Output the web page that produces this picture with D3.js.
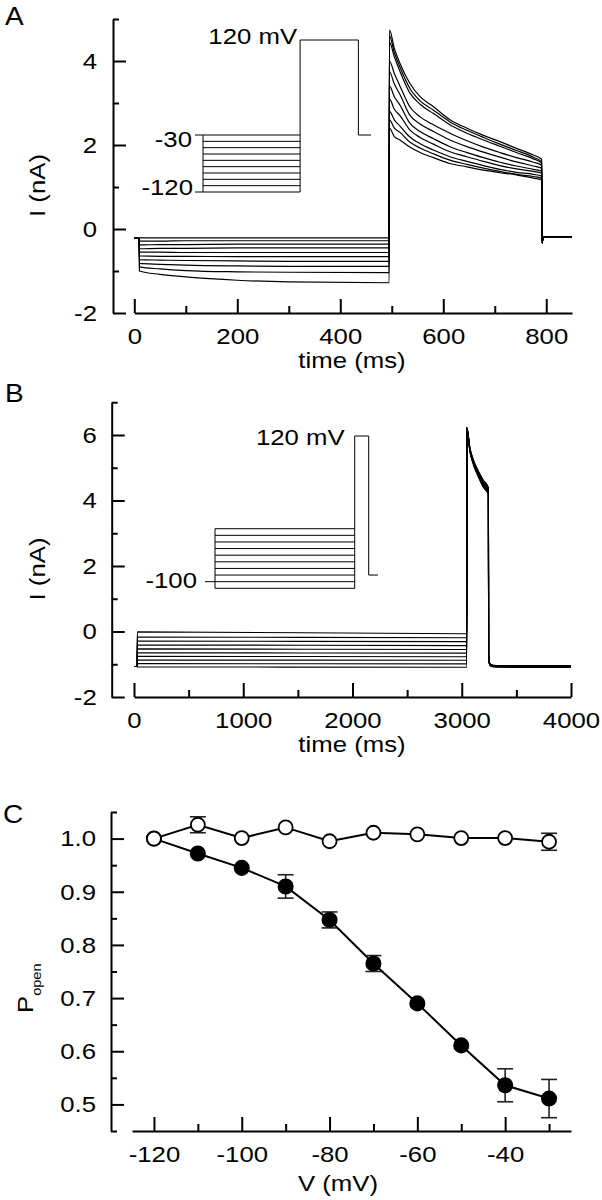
<!DOCTYPE html>
<html><head><meta charset="utf-8">
<script src="https://cdn.jsdelivr.net/npm/d3@7"></script>
<style>
body{margin:0;background:#fff}
svg{display:block}
</style>
</head><body>
<svg id="fig" width="602" height="1200"></svg>
<script>
// ---------------- DATA ----------------
// Panel A : prepulse voltages (mV), top to bottom
const aVolt = [-30,-40,-50,-60,-70,-80,-90,-100,-110,-120];
const aHoldStart = -0.22, aHoldEnd = -0.18, aDip = -0.33;
const aHoldT = [0, 9.5];
const aPreT = [10, 50, 100, 200, 300, 495];
const aPreI = [
 [-0.21,-0.21,-0.21,-0.21,-0.21,-0.21],
 [-0.29,-0.29,-0.28,-0.28,-0.28,-0.28],
 [-0.38,-0.37,-0.37,-0.36,-0.36,-0.36],
 [-0.47,-0.46,-0.46,-0.45,-0.45,-0.45],
 [-0.55,-0.55,-0.56,-0.56,-0.56,-0.56],
 [-0.64,-0.65,-0.65,-0.66,-0.66,-0.66],
 [-0.73,-0.74,-0.75,-0.76,-0.77,-0.77],
 [-0.82,-0.84,-0.86,-0.88,-0.89,-0.89],
 [-0.90,-0.95,-0.99,-1.02,-1.03,-1.04],
 [-1.00,-1.08,-1.14,-1.22,-1.26,-1.28]];
const aTestT = [495.5, 505, 516, 535, 555, 581, 613, 646, 678, 710, 742, 775, 791];
const aTestI = [
 [2.40,2.20,2.12,1.95,1.82,1.70,1.56,1.48,1.40,1.34,1.29,1.21,1.17],
 [2.60,2.40,2.30,2.07,1.93,1.79,1.64,1.54,1.45,1.37,1.30,1.25,1.21],
 [2.80,2.60,2.45,2.19,2.03,1.88,1.72,1.61,1.51,1.42,1.35,1.30,1.26],
 [3.10,2.85,2.70,2.36,2.18,2.02,1.84,1.72,1.61,1.51,1.43,1.37,1.33],
 [3.40,3.15,2.95,2.52,2.32,2.15,1.96,1.82,1.70,1.59,1.50,1.42,1.38],
 [3.75,3.45,3.20,2.71,2.50,2.32,2.12,1.96,1.83,1.71,1.60,1.50,1.45],
 [4.00,3.70,3.40,2.91,2.67,2.48,2.28,2.10,1.95,1.82,1.70,1.59,1.52],
 [4.45,4.10,3.75,3.24,2.97,2.75,2.48,2.28,2.12,1.97,1.82,1.67,1.57],
 [4.60,4.20,3.85,3.35,3.05,2.83,2.55,2.35,2.18,2.02,1.87,1.71,1.60],
 [4.74,4.30,3.94,3.47,3.15,2.91,2.60,2.40,2.23,2.08,1.92,1.76,1.66]];
const aEndT = [792, 794, 850];
// Panel A protocol inset
const aProtoPreDur = 500, aProtoTestV = 120, aProtoTestDur = 300, aProtoTailV = -30, aProtoTailDur = 65;
const aProtoLabels = [-30, -120];

// Panel B
const bVolt = [-20,-30,-40,-50,-60,-70,-80,-90,-100,-110];
const bHold = -1.07;
const bHoldT = [0, 29.5];
const bPreT = [30, 3046];
const bPreStart = [-0.01,-0.17,-0.29,-0.41,-0.53,-0.65,-0.76,-0.87,-0.98,-1.08];
const bPreEnd   = [-0.07,-0.19,-0.31,-0.43,-0.55,-0.66,-0.77,-0.88,-0.99,-1.09];
const bTestT = [3046.5, 3075, 3106, 3152, 3198, 3244];
const bTestI = [
 [6.23,5.60,5.25,4.90,4.62,4.40],
 [6.23,5.59,5.23,4.88,4.60,4.38],
 [6.22,5.58,5.22,4.86,4.57,4.35],
 [6.22,5.56,5.20,4.84,4.54,4.33],
 [6.21,5.55,5.18,4.82,4.52,4.30],
 [6.21,5.54,5.17,4.80,4.50,4.28],
 [6.20,5.52,5.15,4.78,4.48,4.25],
 [6.20,5.51,5.13,4.76,4.45,4.23],
 [6.19,5.50,5.12,4.74,4.43,4.20],
 [6.18,5.48,5.10,4.72,4.40,4.18]];
const bTailT = [3246, 3252, 3262, 3285, 3350, 4000];
const bTailI = [
 [-0.70,-0.93,-1.00,-1.03,-1.04,-1.04],
 [-0.70,-0.93,-1.00,-1.03,-1.04,-1.05],
 [-0.71,-0.94,-1.01,-1.04,-1.05,-1.05],
 [-0.71,-0.94,-1.01,-1.04,-1.05,-1.06],
 [-0.72,-0.95,-1.02,-1.05,-1.06,-1.07],
 [-0.72,-0.95,-1.02,-1.05,-1.06,-1.07],
 [-0.73,-0.96,-1.03,-1.06,-1.07,-1.08],
 [-0.73,-0.96,-1.03,-1.06,-1.07,-1.08],
 [-0.74,-0.97,-1.04,-1.07,-1.08,-1.09],
 [-0.75,-0.98,-1.05,-1.08,-1.09,-1.10]];
// Panel B protocol inset
const bProtoPreDur = 3000, bProtoTestV = 120, bProtoTestDur = 300, bProtoTailV = -90, bProtoTailDur = 200;
const bProtoLabels = [-100];

// Panel C
const cV = [-120,-110,-100,-90,-80,-70,-60,-50,-40,-30];
const cOpen      = [1.000,1.026,1.001,1.021,0.995,1.011,1.008,1.001,1.001,0.994];
const cOpenErr   = [0,0.015,0,0,0,0,0,0,0,0.016];
const cFilled    = [1.000,0.972,0.945,0.910,0.847,0.765,0.690,0.611,0.536,0.511];
const cFilledErr = [0,0,0,0.022,0.015,0.015,0,0,0.031,0.036];

// tick values
const aYMajor = [-2,0,2,4], aYMinor = [-1,1,3,5];
const aXMajor = [0,200,400,600,800], aXMinor = [100,300,500,700];
const bYMajor = [-2,0,2,4,6], bYMinor = [-1,1,3,5,7];
const bXMajor = [0,1000,2000,3000,4000], bXMinor = [500,1500,2500,3500];
const cYMajor = [0.5,0.6,0.7,0.8,0.9,1.0], cYMinor = [0.45,0.55,0.65,0.75,0.85,0.95,1.05];
const cXMajor = [-120,-100,-80,-60,-40], cXMinor = [-110,-90,-70,-50,-30];

// ---------------- DRAWING ----------------
const svg = d3.select("#fig");
const SX = 1.12, FS = 23;
const FONT = '"Liberation Sans", Arial, Helvetica, sans-serif';

function txt(x, y, s, anchor = "start", size = FS, rot = 0) {
  return svg.append("text")
    .attr("transform", `translate(${x},${y}) rotate(${rot}) scale(${SX},1)`)
    .attr("text-anchor", anchor)
    .attr("fill", "#000")
    .style("font-size", size + "px").style("font-family", FONT)
    .text(s);
}
function styleAxis(g) {
  g.attr("font-size", null).attr("font-family", null);
  g.selectAll("path.domain").attr("stroke", "#000").attr("stroke-width", 2);
  g.selectAll(".tick line").attr("stroke", "#000").attr("stroke-width", 2);
  g.selectAll(".tick text").each(function () {
    const t = d3.select(this);
    const x = +t.attr("x") || 0;
    t.attr("transform", `translate(${x},0) scale(${SX},1)`).attr("x", 0);
  }).style("font-size", FS + "px").style("font-family", FONT).attr("fill", "#000");
}
function yAxis(scale, x, major, minor, fmt, pad) {
  const gm = svg.append("g").attr("transform", `translate(${x},0)`)
    .call(d3.axisLeft(scale).tickValues(minor).tickSizeInner(-6).tickSizeOuter(0).tickFormat(""));
  gm.select(".domain").remove();
  styleAxis(gm);
  const g = svg.append("g").attr("transform", `translate(${x},0)`)
    .call(d3.axisLeft(scale).tickValues(major).tickSizeInner(-13).tickSizeOuter(0).tickPadding(pad).tickFormat(fmt));
  styleAxis(g);
}
function xAxis(scale, y, major, minor, fmt) {
  const gm = svg.append("g").attr("transform", `translate(0,${y})`)
    .call(d3.axisBottom(scale).tickValues(minor).tickSizeInner(-7).tickSizeOuter(0).tickFormat(""));
  gm.select(".domain").remove();
  styleAxis(gm);
  const g = svg.append("g").attr("transform", `translate(0,${y})`)
    .call(d3.axisBottom(scale).tickValues(major).tickSizeInner(-14).tickSizeOuter(0).tickPadding(15).tickFormat(fmt));
  styleAxis(g);
}
const str = d => String(d);

// ===== Panel A =====
const axA = d3.scaleLinear().domain([0, 850]).range([134.3, 572]);
const ayA = d3.scaleLinear().domain([-2, 5]).range([313, 19]);
const lineA = d3.line().x(d => axA(d[0])).y(d => ayA(d[1])).curve(d3.curveMonotoneX);
aVolt.forEach((v, k) => {
  const pts = [];
  aHoldT.forEach(t => pts.push([t, aHoldStart]));
  aPreT.forEach((t, i) => pts.push([t, aPreI[k][i]]));
  aTestT.forEach((t, i) => pts.push([t, aTestI[k][i]]));
  pts.push([aEndT[0], aDip]);
  pts.push([aEndT[1], aHoldEnd]);
  pts.push([aEndT[2], aHoldEnd]);
  svg.append("path").attr("d", lineA(pts)).attr("fill", "none")
    .attr("stroke", "#000").attr("stroke-width", 1.2);
});
yAxis(ayA, 113, aYMajor, aYMinor, str, 16);
xAxis(axA, 313, aXMajor, aXMinor, str);
txt(352, 368, "time (ms)", "middle");
txt(45, 185.5, "I (nA)", "middle", FS, -90);
txt(5, 25, "A", "start", 25);

// inset A
const aiT = d3.scaleLinear().domain([0, aProtoPreDur + aProtoTestDur + aProtoTailDur]).range([203, 371]);
const aiV = d3.scaleLinear().domain([-120, 120]).range([192, 40]);
const protoLine = (xs, ys) => d3.line().x(d => xs(d[0])).y(d => ys(d[1]));
const laI = protoLine(aiT, aiV);
const gIA = svg.append("g").attr("fill", "none").attr("stroke", "#000").attr("stroke-width", 1);
aVolt.forEach(v => gIA.append("path").attr("d", laI([[0, v], [aProtoPreDur, v]])));
gIA.append("path").attr("d", laI([[0, d3.max(aVolt)], [0, d3.min(aVolt)]]));
gIA.append("path").attr("d", laI([[aProtoPreDur, d3.min(aVolt)], [aProtoPreDur, aProtoTestV],
  [aProtoPreDur + aProtoTestDur, aProtoTestV], [aProtoPreDur + aProtoTestDur, aProtoTailV],
  [aProtoPreDur + aProtoTestDur + aProtoTailDur, aProtoTailV]]));
aProtoLabels.forEach(v => gIA.append("line").attr("x1", aiT(0) - 8).attr("x2", aiT(0))
  .attr("y1", aiV(v)).attr("y2", aiV(v)));
txt(aiT(0) - 11, aiV(-30) + 12, "-30", "end");
txt(aiT(0) - 10, aiV(-120) + 3, "-120", "end");
txt(aiT(aProtoPreDur) - 3, aiV(aProtoTestV) + 4, "120 mV", "end");

// ===== Panel B =====
const axB = d3.scaleLinear().domain([0, 4000]).range([134, 571]);
const ayB = d3.scaleLinear().domain([-2, 7]).range([697, 402.25]);
const lineB = d3.line().x(d => axB(d[0])).y(d => ayB(d[1])).curve(d3.curveMonotoneX);
bVolt.forEach((v, k) => {
  const pts = [];
  bHoldT.forEach(t => pts.push([t, bHold]));
  pts.push([bPreT[0], bPreStart[k]]);
  pts.push([bPreT[1], bPreEnd[k]]);
  bTestT.forEach((t, i) => pts.push([t, bTestI[k][i]]));
  bTailT.forEach((t, i) => pts.push([t, bTailI[k][i]]));
  svg.append("path").attr("d", lineB(pts)).attr("fill", "none")
    .attr("stroke", "#000").attr("stroke-width", 1.1);
});
yAxis(ayB, 111.7, bYMajor, bYMinor, str, 15);
xAxis(axB, 697, bXMajor, bXMinor, str);
txt(352, 752, "time (ms)", "middle");
txt(45, 569, "I (nA)", "middle", FS, -90);
txt(5, 402, "B", "start", 25);

// inset B
const biT = d3.scaleLinear().domain([0, bProtoPreDur + bProtoTestDur + bProtoTailDur]).range([215, 378]);
const biV = d3.scaleLinear().domain([-110, 120]).range([588.3, 436]);
const lbI = protoLine(biT, biV);
const gIB = svg.append("g").attr("fill", "none").attr("stroke", "#000").attr("stroke-width", 1);
bVolt.forEach(v => gIB.append("path").attr("d", lbI([[0, v], [bProtoPreDur, v]])));
gIB.append("path").attr("d", lbI([[0, d3.max(bVolt)], [0, d3.min(bVolt)]]));
gIB.append("path").attr("d", lbI([[bProtoPreDur, d3.min(bVolt)], [bProtoPreDur, bProtoTestV],
  [bProtoPreDur + bProtoTestDur, bProtoTestV], [bProtoPreDur + bProtoTestDur, bProtoTailV],
  [bProtoPreDur + bProtoTestDur + bProtoTailDur, bProtoTailV]]));
bProtoLabels.forEach(v => gIB.append("line").attr("x1", biT(0) - 10).attr("x2", biT(0))
  .attr("y1", biV(v)).attr("y2", biV(v)));
txt(biT(0) - 18, biV(-100) + 6, "-100", "end");
txt(biT(bProtoPreDur) - 10, biV(bProtoTestV) + 9, "120 mV", "end");

// ===== Panel C =====
const axC = d3.scaleLinear().domain([-125, -25]).range([132, 571]);
const ayC = d3.scaleLinear().domain([0.45, 1.05]).range([1131, 812]);
yAxis(ayC, 111, cYMajor, cYMinor, d3.format(".1f"), 15);
xAxis(axC, 1131, cXMajor, cXMinor, str);
txt(338, 1191, "V (mV)", "middle");
txt(3, 823, "C", "start", 25);
const pl = svg.append("text")
  .attr("transform", `translate(33,1013) rotate(-90) scale(${SX},1)`)
  .attr("fill", "#000").style("font-family", FONT);
pl.append("tspan").style("font-size", "23px").text("P");
pl.append("tspan").attr("dy", 8).style("font-size", "13px").text("open");

const lineC = d3.line().x((d, i) => axC(cV[i])).y(d => ayC(d));
svg.append("path").attr("d", lineC(cFilled)).attr("fill", "none").attr("stroke", "#000").attr("stroke-width", 2);
svg.append("path").attr("d", lineC(cOpen)).attr("fill", "none").attr("stroke", "#000").attr("stroke-width", 2);
function errBars(vals, errs) {
  vals.forEach((v, i) => {
    if (!errs[i]) return;
    const x = axC(cV[i]), y1 = ayC(v - errs[i]), y2 = ayC(v + errs[i]);
    const g = svg.append("g").attr("stroke", "#222").attr("stroke-width", 1.6);
    g.append("line").attr("x1", x).attr("x2", x).attr("y1", y1).attr("y2", y2);
    g.append("line").attr("x1", x - 8).attr("x2", x + 8).attr("y1", y1).attr("y2", y1);
    g.append("line").attr("x1", x - 8).attr("x2", x + 8).attr("y1", y2).attr("y2", y2);
  });
}
errBars(cFilled, cFilledErr);
errBars(cOpen, cOpenErr);
svg.append("g").selectAll("circle").data(cFilled).join("circle")
  .attr("cx", (d, i) => axC(cV[i])).attr("cy", d => ayC(d)).attr("r", 7.3)
  .attr("fill", "#000").attr("stroke", "#000").attr("stroke-width", 1.5);
svg.append("g").selectAll("circle").data(cOpen).join("circle")
  .attr("cx", (d, i) => axC(cV[i])).attr("cy", d => ayC(d)).attr("r", 7)
  .attr("fill", "#fff").attr("stroke", "#000").attr("stroke-width", 1.8);
</script>
</body></html>
